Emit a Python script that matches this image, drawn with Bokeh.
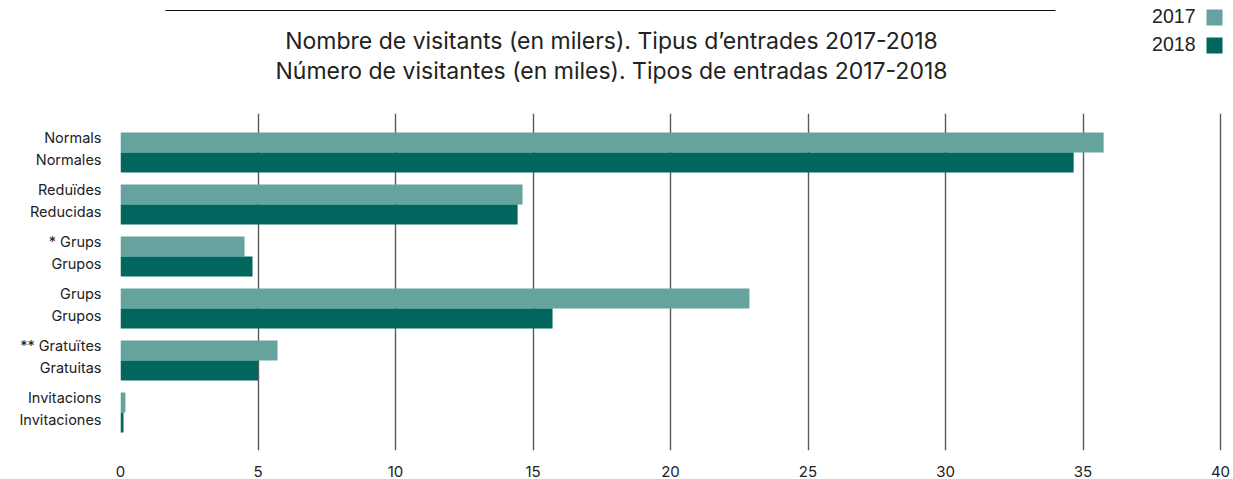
from bokeh.plotting import figure
from bokeh.models import Range1d, FixedTicker, ColumnDataSource
from bokeh.layouts import column
from bokeh.core.properties import value
from bokeh.embed import file_html
from bokeh.resources import INLINE

# ---- data ----
cat_ca = ["Normals", "Reduïdes", "* Grups", "Grups", "** Gratuïtes", "Invitacions"]
cat_es = ["Normales", "Reducidas", "Grupos", "Grupos", "Gratuitas", "Invitaciones"]
v2017 = [35.75, 14.62, 4.51, 22.87, 5.71, 0.18]
v2018 = [34.66, 14.44, 4.80, 15.71, 5.00, 0.11]
series = ["2017", "2018"]
x_ticks = [0, 5, 10, 15, 20, 25, 30, 35, 40]
title1 = "Nombre de visitants (en milers). Tipus d\u2019entrades 2017-2018"
title2 = "Número de visitantes (en miles). Tipos de entradas 2017-2018"

C17 = "#66A39E"
C18 = "#00665E"
FONT = "Inter"
TFONT = "Inter"
TXT = "#222222"

W = 1233
LB = 120      # left border (frame start)
RB = 7        # right border
FR_W = W - LB - RB   # frame width
PX_PER_UNIT = 27.5

# ---- header figure (page pixel coordinates, y downward) ----
h = figure(width=W, height=100, x_range=Range1d(LB, W - RB), y_range=Range1d(100, 0),
           output_backend="svg", toolbar_location=None,
           min_border_left=LB, min_border_right=RB, min_border_top=0, min_border_bottom=0,
           x_axis_type=None, y_axis_type=None)
h.outline_line_color = None
h.grid.visible = False
h.segment(x0=[165], y0=[10], x1=[1055], y1=[10], line_color="#111111", line_width=1.2)
h.text(x=[611, 611], y=[40, 70], text=[title1, title2], text_font=value(TFONT),
       text_font_size="23px", text_align="center", text_baseline="middle", text_color=TXT)
h.text(x=[1195, 1195], y=[15.5, 43.5], text=series, text_font=value("Liberation Sans"),
       text_font_size="19.5px", text_align="right", text_baseline="middle", text_color=TXT)
h.quad(left=[1206, 1206], right=[1222, 1222], top=[9, 37], bottom=[25, 53],
       fill_color=[C17, C18], line_color=None)

# ---- main figure ----
n = len(cat_ca)
pos = list(range(n))
src = ColumnDataSource(dict(
    y17=[i - 0.1923 for i in pos], y18=[i + 0.1923 for i in pos], v17=v2017, v18=v2018))

x_end = FR_W / PX_PER_UNIT
p = figure(width=W, height=379, x_range=Range1d(0, x_end), y_range=Range1d(5.73, -0.75),
           output_backend="svg", toolbar_location=None,
           min_border_left=LB, min_border_right=RB, min_border_top=13, min_border_bottom=29)
p.outline_line_color = None
p.hbar(y="y17", right="v17", left=0, height=0.385, source=src, fill_color=C17, line_color=None)
p.hbar(y="y18", right="v18", left=0, height=0.385, source=src, fill_color=C18, line_color=None)

p.ygrid.visible = False
p.xgrid.ticker = FixedTicker(ticks=x_ticks)
p.xgrid.grid_line_color = "#5a5a5a"
p.xgrid.grid_line_width = 1.4

p.xaxis.ticker = FixedTicker(ticks=x_ticks)
p.xaxis.axis_line_color = None
p.xaxis.major_tick_line_color = None
p.xaxis.minor_tick_line_color = None
p.xaxis.major_label_standoff = 9
p.xaxis.major_label_text_font = FONT
p.xaxis.major_label_text_font_size = "15px"
p.xaxis.major_label_text_color = TXT

yt = []
ov = {}
for i in pos:
    a = i - 0.28125
    b = i + 0.125
    yt += [a, b]
    ov[a] = cat_ca[i]
    ov[b] = cat_es[i]
p.yaxis.ticker = FixedTicker(ticks=yt)
p.yaxis.major_label_overrides = ov
p.yaxis.axis_line_color = None
p.yaxis.major_tick_line_color = None
p.yaxis.minor_tick_line_color = None
p.yaxis.major_label_standoff = 13
p.yaxis.major_label_text_font = FONT
p.yaxis.major_label_text_font_size = "14.5px"
p.yaxis.major_label_text_color = TXT

layout = column(h, p, spacing=0)
open("out.html", "w").write(file_html(layout, INLINE))
